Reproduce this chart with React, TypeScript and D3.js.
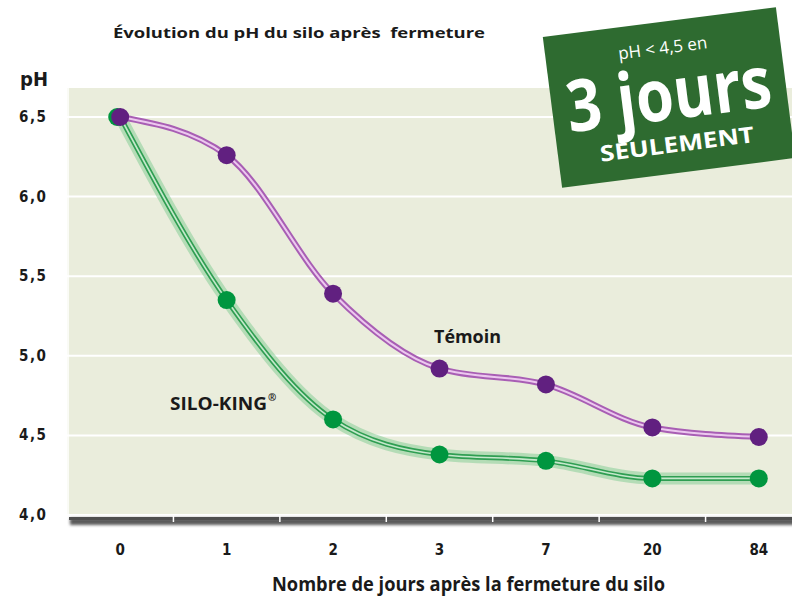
import React from "react";
import * as d3 from "d3";

const days = ["0", "1", "2", "3", "7", "20", "84"];
const temoin = [6.5, 6.26, 5.39, 4.92, 4.82, 4.55, 4.49];
const siloKing = [6.5, 5.35, 4.6, 4.38, 4.34, 4.23, 4.23];
const yTicks = [4.0, 4.5, 5.0, 5.5, 6.0, 6.5];

const W = 792;
const H = 599;
const plot = { left: 67, right: 812, top: 88, bottom: 516 };

const x = d3.scaleBand<string>().domain(days).range([plot.left, plot.right]);
const y = d3.scaleLinear().domain([4.0, 6.5]).range([515, 117]);

const line = d3
  .line<number>()
  .x((_, i) => (x(days[i]) as number) + x.bandwidth() / 2)
  .y((d) => y(d))
  .curve(d3.curveMonotoneX);

const fmt = (v: number) => v.toFixed(1).replace(".", ",");

const boldNarrow = "'DejaVu Sans Condensed', 'Liberation Sans Narrow', sans-serif";
const myriad = "'Open Sans', 'Noto Sans', sans-serif";

export default function App() {
  const cx = (i: number) => (x(days[i]) as number) + x.bandwidth() / 2;
  return (
    <svg width={W} height={H} style={{ position: "absolute", left: 0, top: 0 }}>
      <defs>
        <filter id="blur" x="-5%" y="-100%" width="110%" height="300%">
          <feGaussianBlur stdDeviation="1.6" />
        </filter>
      </defs>
      <rect width={W} height={H} fill="#ffffff" />

      {/* plot background */}
      <rect x={plot.left} y={plot.top} width={W - plot.left} height={plot.bottom - plot.top} fill="#eaeddc" />
      {yTicks.map((t) => (
        <line key={t} x1={plot.left} x2={W} y1={y(t)} y2={y(t)} stroke="#ffffff" strokeWidth={2} />
      ))}
      <line x1={plot.left + 1} x2={plot.left + 1} y1={plot.top} y2={plot.bottom} stroke="#ffffff" strokeWidth={1.5} />

      {/* bottom axis bar with shadow */}
      <rect x={plot.left + 3} y={518} width={W - plot.left + 10} height={7} fill="#5a5a5a" filter="url(#blur)" />
      <rect x={plot.left + 2} y={517} width={W - plot.left} height={3} fill="#4f4f4f" />
      {days.slice(1).map((d) => (
        <line key={d} x1={x(d) as number} x2={x(d) as number} y1={516} y2={522} stroke="#ffffff" strokeWidth={1.5} />
      ))}

      {/* y tick labels */}
      {yTicks.map((t) => (
        <text key={t} x={19} y={y(t) + 5} fontFamily={boldNarrow} fontWeight="bold" fontSize={15} letterSpacing={1.5} fill="#1a1a1a">
          {fmt(t)}
        </text>
      ))}
      <text x={20} y={86} fontFamily={boldNarrow} fontWeight="bold" fontSize={20} fill="#1a1a1a">pH</text>

      {/* x tick labels */}
      {days.map((d, i) => (
        <text key={d} x={cx(i)} y={555} textAnchor="middle" fontFamily={boldNarrow} fontWeight="bold" fontSize={15} fill="#1a1a1a">
          {d}
        </text>
      ))}

      {/* titles */}
      <text x={113} y={38} fontFamily={myriad} fontWeight="bold" fontSize={15} textLength={372} lengthAdjust="spacingAndGlyphs" fill="#1a1a1a" style={{ whiteSpace: "pre" }}>
        Évolution du pH du silo après  fermeture
      </text>
      <text x={272} y={591} fontFamily={myriad} fontWeight="bold" fontSize={19} textLength={393} lengthAdjust="spacingAndGlyphs" fill="#1a1a1a">
        Nombre de jours après la fermeture du silo
      </text>

      {/* SILO-KING line */}
      <path d={line(siloKing) || ""} fill="none" stroke="#8fd09c" strokeOpacity={0.6} strokeWidth={12} />
      <path d={line(siloKing) || ""} fill="none" stroke="#2f9e52" strokeWidth={5} />
      <path d={line(siloKing) || ""} fill="none" stroke="#c4e8cb" strokeWidth={1.6} />

      {/* Témoin line */}
      <path d={line(temoin) || ""} fill="none" stroke="#a85eb4" strokeWidth={6} />
      <path d={line(temoin) || ""} fill="none" stroke="#ecc8ef" strokeWidth={2} />

      {siloKing.map((v, i) => (
        <circle key={"s" + i} cx={cx(i) - (i === 0 ? 3 : 0)} cy={y(v)} r={9} fill="#00963f" />
      ))}
      {temoin.map((v, i) => (
        <circle key={"t" + i} cx={cx(i)} cy={y(v)} r={9} fill="#612080" />
      ))}

      {/* series labels */}
      <text x={434} y={343} fontFamily={myriad} fontWeight="bold" fontSize={17} textLength={67} lengthAdjust="spacingAndGlyphs" fill="#1a1a1a">Témoin</text>
      <text x={170} y={410} fontFamily={myriad} fontWeight="bold" fontSize={17} textLength={97} lengthAdjust="spacingAndGlyphs" fill="#1a1a1a">SILO-KING</text>
      <text x={268} y={401} fontFamily={myriad} fontWeight="bold" fontSize={10} fill="#1a1a1a">®</text>

      {/* callout box */}
      <g transform="translate(669,97.5) rotate(-7.3)">
        <rect x={-117.5} y={-76} width={235} height={152} fill="#2e6b30" />
        <text x={0} y={-44} textAnchor="middle" fontFamily={myriad} fontSize={17} fill="#ffffff">pH &lt; 4,5 en</text>
        <text x={0} y={22} textAnchor="middle" fontFamily={myriad} fontWeight="bold" fontSize={72} textLength={206} lengthAdjust="spacingAndGlyphs" fill="#ffffff">3 jours</text>
        <text x={2} y={55} textAnchor="middle" fontFamily={myriad} fontWeight="bold" fontSize={22} textLength={155} lengthAdjust="spacingAndGlyphs" fill="#ffffff">SEULEMENT</text>
      </g>
    </svg>
  );
}
